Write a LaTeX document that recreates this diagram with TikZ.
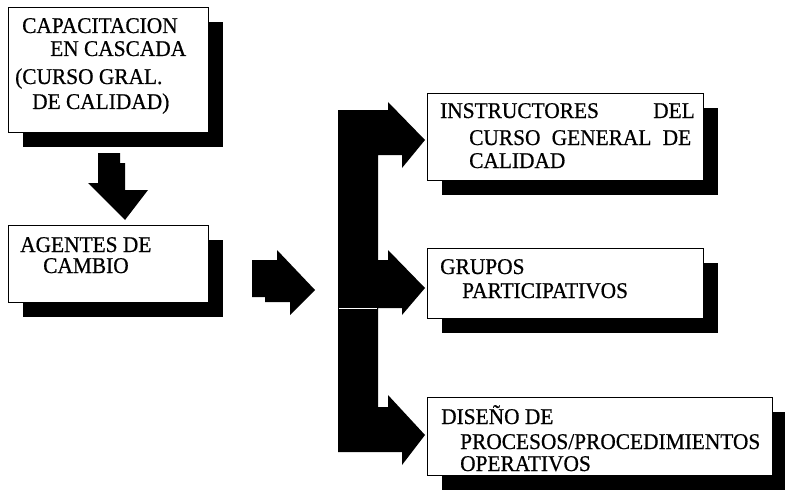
\documentclass[tikz,border=0pt]{standalone}
\usepackage{fontspec}
\setmainfont{Liberation Serif}[FakeStretch=0.95, FakeBold=0.6]
\usetikzlibrary{shadows}
\begin{document}
\begin{tikzpicture}[x=1pt,y=-1pt,
  panel/.style={draw=black, line width=1.4pt, fill=white, anchor=north west,
    inner sep=0pt, drop shadow={shadow xshift=14pt, shadow yshift=-14pt, fill=black, opacity=1}},
  label/.style={anchor=base west, inner sep=0pt, font=\fontsize{22.5}{26}\selectfont},
  blockarrow/.style={fill=black}]
\useasboundingbox (0,0) rectangle (785,495);

% boxes with solid drop shadows
\node[panel, minimum width=200pt, minimum height=125pt] (cap) at (8,7) {};
\node[panel, minimum width=200pt, minimum height=77pt] (age) at (8,225) {};
\node[panel, minimum width=276pt, minimum height=87pt] (ins) at (427,93) {};
\node[panel, minimum width=276pt, minimum height=70pt] (gru) at (427,248) {};
\node[panel, minimum width=345pt, minimum height=78pt] (dis) at (427,397) {};

% box texts
\node[label] (cap1) at (22,33) {CAPACITACION};
\node[label] (cap2) at (50,56) {EN CASCADA};
\node[label] (cap3) at (15,84) {(CURSO GRAL.};
\node[label] (cap4) at (32,109) {DE CALIDAD)};

\node[label] (age1) at (20,252) {AGENTES DE};
\node[label] (age2) at (43,273) {CAMBIO};

\node[label] (ins1) at (440,118) {INSTRUCTORES};
\node[label] (ins2) at (653,118) {DEL};
\node[label] (ins3) at (469,145) {CURSO\hspace{0.5em}GENERAL\hspace{0.5em}DE};
\node[label] (ins4) at (469,168) {CALIDAD};

\node[label] (gru1) at (440,274) {GRUPOS};
\node[label] (gru2) at (462,298) {PARTICIPATIVOS};

\node[label] (dis1) at (441,424) {DISEÑO DE};
\node[label] (dis2) at (460,449) {PROCESOS/PROCEDIMIENTOS};
\node[label] (dis3) at (460,471) {OPERATIVOS};

% down arrow between the first two boxes
\fill[blockarrow] (98,153) -- (120,153) -- (120,163) -- (125,163) -- (125,190)
  -- (148,190) -- (125,220) -- (88,183) -- (98,183) -- cycle;

% arrow into the distribution bar
\fill[blockarrow] (252,260) -- (277,260) -- (277,250) -- (315,290) -- (290,315)
  -- (290,302) -- (265,302) -- (265,297) -- (252,297) -- cycle;

% distribution bar with three branches
\fill[blockarrow] (338,110) -- (388,110) -- (388,102) -- (425,140) -- (402,168)
  -- (402,155) -- (378,155) -- (378,260) -- (388,260) -- (388,250) -- (425,288)
  -- (402,315) -- (402,308) -- (378,308) -- (378,407) -- (388,407) -- (388,395)
  -- (425,435) -- (402,465) -- (402,452) -- (338,452) -- cycle;
\draw[white, line width=0.8pt] (339,308) -- (377,308);
\end{tikzpicture}
\end{document}
